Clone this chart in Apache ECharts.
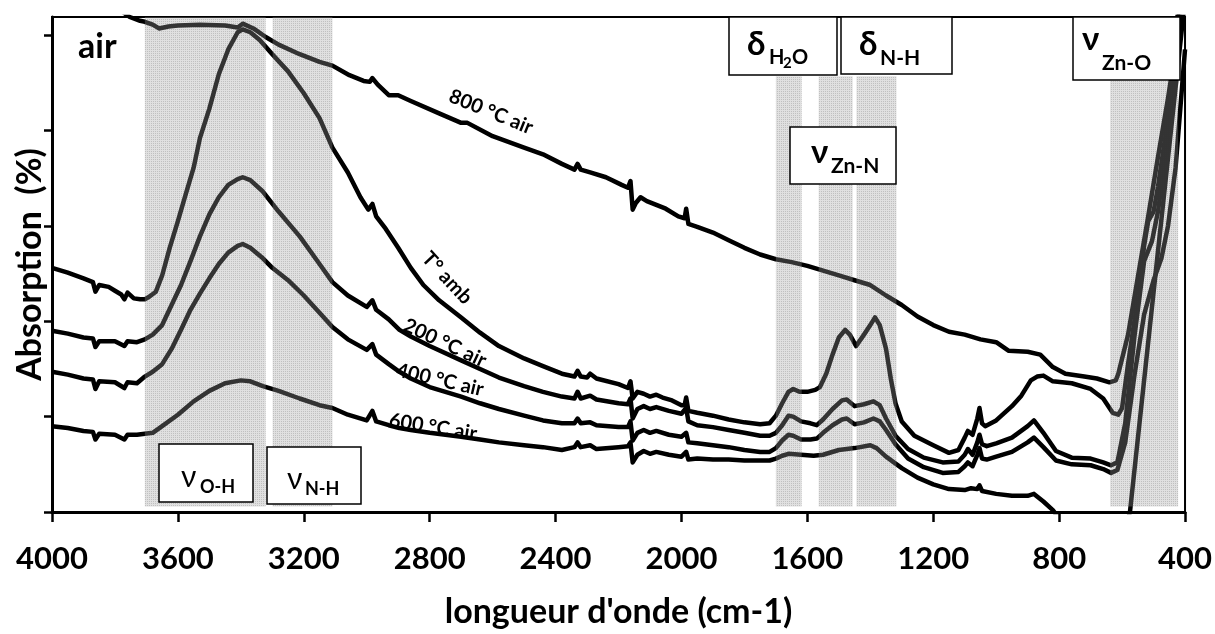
<!DOCTYPE html>
<html><head><meta charset="utf-8">
<script src="https://cdn.jsdelivr.net/npm/echarts@6/dist/echarts.min.js"></script>
<style>html,body{margin:0;padding:0;background:#fff}#c{width:1215px;height:634px}</style>
</head><body><div id="c"></div>
<script>
// ---- data: [wavenumber (cm-1), absorption (arb. units, 1 per y tick)] ----
const xTicks = [4000, 3600, 3200, 2800, 2400, 2000, 1600, 1200, 800, 400];

const air800 = [[4000,5.60],[3900,5.45],[3800,5.30],[3753,5.19],[3720,5.15],[3705,5.14],[3680,5.11],[3660,5.07],[3630,5.09],[3600,5.10],[3530,5.11],[3450,5.10],[3410,5.08],[3394,5.12],[3360,5.07],[3321,4.98],[3280,4.90],[3213,4.80],[3150,4.72],[3109,4.68],[3055,4.58],[3010,4.52],[2990,4.51],[2982,4.55],[2965,4.48],[2930,4.37],[2900,4.37],[2860,4.31],[2770,4.18],[2700,4.08],[2680,4.08],[2600,3.94],[2500,3.82],[2440,3.75],[2380,3.65],[2340,3.59],[2330,3.65],[2320,3.59],[2290,3.56],[2240,3.51],[2190,3.43],[2170,3.40],[2162,3.47],[2155,3.17],[2145,3.24],[2130,3.30],[2110,3.26],[2080,3.22],[2050,3.18],[2010,3.10],[1990,3.08],[1985,3.18],[1978,3.02],[1950,2.99],[1900,2.93],[1850,2.85],[1800,2.77],[1750,2.70],[1700,2.65],[1650,2.62],[1600,2.58],[1550,2.53],[1500,2.48],[1450,2.43],[1400,2.38],[1350,2.27],[1300,2.17],[1250,2.05],[1200,1.96],[1150,1.89],[1100,1.86],[1050,1.81],[1000,1.78],[960,1.69],[900,1.68],[860,1.65],[820,1.52],[780,1.45],[720,1.42],[680,1.40],[640,1.36],[620,1.38],[612,1.45],[581,1.86],[549,2.48],[517,3.10],[486,3.72],[454,4.34],[440,4.64],[425,5.16],[415,5.50]];

const airAmb = [[4000,2.56],[3950,2.51],[3900,2.45],[3870,2.41],[3862,2.31],[3850,2.38],[3820,2.36],[3800,2.32],[3780,2.28],[3770,2.23],[3760,2.30],[3740,2.24],[3720,2.23],[3705,2.23],[3690,2.26],[3670,2.31],[3650,2.48],[3626,2.77],[3600,3.05],[3578,3.30],[3550,3.61],[3530,3.92],[3500,4.23],[3470,4.59],[3440,4.85],[3410,5.03],[3394,5.06],[3370,5.03],[3340,4.95],[3300,4.80],[3250,4.62],[3200,4.39],[3150,4.13],[3109,3.82],[3060,3.56],[3020,3.30],[2995,3.17],[2982,3.23],[2970,3.10],[2940,2.97],[2900,2.77],[2860,2.56],[2820,2.38],[2770,2.22],[2700,2.04],[2640,1.88],[2580,1.74],[2500,1.61],[2440,1.53],[2380,1.45],[2340,1.42],[2330,1.48],[2320,1.42],[2300,1.41],[2290,1.45],[2270,1.40],[2200,1.34],[2170,1.30],[2162,1.37],[2155,1.19],[2140,1.26],[2120,1.24],[2100,1.21],[2080,1.23],[2060,1.20],[2030,1.17],[2000,1.12],[1990,1.12],[1985,1.20],[1978,1.06],[1950,1.04],[1900,1.01],[1850,0.97],[1800,0.94],[1750,0.92],[1720,0.93],[1700,1.01],[1680,1.14],[1660,1.26],[1645,1.29],[1625,1.26],[1600,1.26],[1575,1.28],[1560,1.31],[1540,1.45],[1520,1.65],[1500,1.83],[1480,1.91],[1465,1.86],[1445,1.74],[1420,1.86],[1400,1.96],[1385,2.04],[1370,1.96],[1350,1.71],[1335,1.40],[1320,1.14],[1300,0.95],[1260,0.80],[1200,0.70],[1150,0.62],[1120,0.65],[1100,0.78],[1090,0.85],[1075,0.81],[1060,0.98],[1053,1.09],[1045,0.93],[1035,0.90],[1000,0.96],[950,1.11],[920,1.22],[890,1.38],[870,1.42],[850,1.43],[820,1.37],[760,1.35],[700,1.29],[660,1.19],[630,1.04],[612,1.02],[600,1.09],[581,1.55],[549,2.27],[530,2.79],[517,3.05],[500,3.15],[486,3.41],[454,4.13],[440,4.49],[425,5.06],[415,5.40]];

const air200 = [[4000,1.90],[3950,1.87],[3900,1.83],[3870,1.82],[3862,1.73],[3850,1.79],[3800,1.79],[3770,1.74],[3760,1.79],[3730,1.78],[3705,1.81],[3680,1.86],[3650,1.96],[3620,2.17],[3590,2.38],[3560,2.63],[3530,2.89],[3500,3.12],[3470,3.30],[3440,3.43],[3410,3.49],[3394,3.51],[3370,3.48],[3330,3.36],[3280,3.15],[3213,2.89],[3150,2.60],[3109,2.41],[3060,2.27],[3000,2.15],[2982,2.22],[2970,2.12],[2930,2.02],[2896,1.91],[2860,1.84],[2800,1.74],[2700,1.59],[2640,1.50],[2580,1.41],[2500,1.32],[2440,1.26],[2380,1.21],[2340,1.19],[2330,1.26],[2320,1.19],[2290,1.22],[2270,1.18],[2200,1.14],[2170,1.13],[2162,1.19],[2155,0.98],[2140,1.08],[2120,1.11],[2100,1.08],[2080,1.10],[2040,1.06],[2000,1.03],[1985,1.09],[1978,0.95],[1950,0.91],[1900,0.89],[1850,0.86],[1800,0.83],[1750,0.80],[1720,0.80],[1700,0.83],[1680,0.91],[1660,1.01],[1645,1.00],[1620,0.95],[1590,0.93],[1570,0.91],[1550,0.97],[1520,1.08],[1490,1.17],[1475,1.18],[1450,1.11],[1420,1.13],[1390,1.16],[1370,1.12],[1350,0.98],[1320,0.80],[1280,0.66],[1230,0.57],[1170,0.52],[1120,0.53],[1100,0.60],[1090,0.66],[1075,0.60],[1060,0.73],[1053,0.81],[1045,0.71],[1030,0.69],[1000,0.72],[950,0.78],[900,0.90],[880,0.96],[850,0.83],[810,0.64],[760,0.57],[700,0.56],[660,0.52],[635,0.49],[615,0.52],[590,0.93],[560,1.86],[530,2.63],[505,2.84],[486,3.15],[454,3.92],[440,4.34],[425,4.95],[415,5.35]];

const air400 = [[4000,1.47],[3950,1.44],[3900,1.40],[3870,1.39],[3862,1.29],[3850,1.37],[3800,1.36],[3770,1.30],[3760,1.36],[3730,1.35],[3705,1.42],[3680,1.47],[3650,1.55],[3620,1.71],[3590,1.91],[3560,2.12],[3530,2.29],[3500,2.45],[3470,2.60],[3440,2.72],[3410,2.79],[3394,2.81],[3370,2.77],[3330,2.66],[3300,2.56],[3250,2.43],[3200,2.27],[3150,2.09],[3109,1.94],[3060,1.81],[3000,1.70],[2982,1.76],[2970,1.65],[2930,1.55],[2896,1.47],[2860,1.40],[2800,1.31],[2700,1.21],[2640,1.14],[2580,1.08],[2500,1.01],[2440,0.96],[2380,0.93],[2340,0.93],[2330,0.98],[2320,0.93],[2290,0.94],[2270,0.91],[2200,0.89],[2170,0.89],[2162,0.95],[2155,0.75],[2140,0.83],[2120,0.86],[2100,0.83],[2080,0.85],[2040,0.81],[2000,0.79],[1985,0.83],[1978,0.73],[1950,0.72],[1900,0.70],[1850,0.68],[1800,0.65],[1750,0.63],[1720,0.63],[1700,0.67],[1680,0.75],[1660,0.81],[1645,0.80],[1620,0.76],[1590,0.76],[1570,0.77],[1550,0.83],[1520,0.91],[1490,0.97],[1475,0.98],[1450,0.92],[1420,0.94],[1390,0.98],[1370,0.95],[1350,0.86],[1320,0.71],[1280,0.56],[1230,0.47],[1170,0.41],[1120,0.42],[1100,0.48],[1090,0.52],[1075,0.48],[1060,0.60],[1053,0.67],[1045,0.56],[1030,0.55],[1000,0.58],[950,0.63],[900,0.73],[880,0.78],[850,0.68],[810,0.54],[760,0.50],[700,0.49],[660,0.45],[635,0.41],[615,0.44],[590,0.73],[560,1.45],[530,2.07],[500,2.43],[475,2.66],[454,3.00],[430,3.61],[415,4.23],[400,4.85]];

const air600 = [[4000,0.90],[3950,0.88],[3900,0.85],[3870,0.84],[3862,0.76],[3850,0.82],[3800,0.81],[3770,0.76],[3760,0.81],[3730,0.81],[3705,0.82],[3680,0.83],[3650,0.90],[3600,1.02],[3550,1.16],[3500,1.27],[3450,1.35],[3400,1.38],[3370,1.37],[3330,1.32],[3280,1.27],[3213,1.19],[3150,1.12],[3109,1.09],[3060,1.02],[3000,0.96],[2982,1.06],[2970,0.95],[2930,0.91],[2896,0.88],[2860,0.86],[2800,0.83],[2700,0.79],[2640,0.76],[2580,0.73],[2500,0.70],[2440,0.68],[2380,0.65],[2340,0.68],[2330,0.73],[2320,0.68],[2290,0.70],[2270,0.66],[2200,0.68],[2170,0.69],[2162,0.73],[2155,0.52],[2140,0.60],[2120,0.64],[2100,0.61],[2080,0.63],[2040,0.60],[2000,0.58],[1985,0.63],[1978,0.55],[1950,0.56],[1900,0.55],[1850,0.55],[1800,0.54],[1750,0.54],[1720,0.54],[1700,0.56],[1680,0.59],[1660,0.61],[1620,0.60],[1580,0.59],[1550,0.60],[1500,0.65],[1450,0.67],[1400,0.70],[1380,0.67],[1350,0.58],[1300,0.46],[1250,0.36],[1200,0.29],[1150,0.24],[1100,0.23],[1080,0.25],[1060,0.24],[1053,0.28],[1045,0.22],[1000,0.19],[950,0.17],[900,0.17],[880,0.19],[850,0.11],[820,0.02],[800,-0.07],[750,-0.30],[650,-0.50],[600,-0.30],[575,0.00],[406,5.19],[400,5.40]];

// shaded vibration bands [from, to] in cm-1, and their top (abs. units)
const bandRanges = [[3705, 3321], [3299, 3109], [1700, 1618], [1564, 1456], [1444, 1317], [638, 422]];
const bandTops = [5.19, 5.19, 4.57, 4.57, 4.57, 4.52];
const yTicks = [0, 1, 2, 3, 4, 5];

// ---- chart ----
const FONT = 'Lato, "Noto Sans", "Open Sans", sans-serif';
const Y_MAX = 5.19, BAND_BOTTOM = 0.057;

const pc = document.createElement('canvas');
pc.width = 2; pc.height = 2;
const g = pc.getContext('2d');
g.fillStyle = 'rgba(160,160,160,0.32)'; g.fillRect(0, 0, 2, 2);
g.clearRect(1, 1, 1, 1);
g.fillStyle = 'rgba(115,115,115,0.45)'; g.fillRect(1, 1, 1, 1);
const bandFill = { type: 'pattern', image: pc, repeat: 'repeat' };

const bandData = bandRanges.map((b, i) => [b[0], b[1], bandTops[i]]);

function lineSeries(name, data) {
  return { name, type: 'line', data, symbol: 'none', z: 2, clip: true, animation: false,
    lineStyle: { color: '#000', width: 4.5, join: 'round' } };
}

function txt(x, y, text, size, weight, align, rotDeg) {
  return { type: 'text', x, y, z: 120, rotation: (rotDeg || 0) * Math.PI / 180,
    style: { text, fill: '#000', fontSize: size, fontWeight: weight, fontFamily: FONT,
      align: align || 'left', verticalAlign: 'middle' } };
}
function box(x, y, w, h) {
  return { type: 'rect', z: 110, shape: { x, y, width: w, height: h },
    style: { fill: '#fff', stroke: '#000', lineWidth: 1.5 } };
}

const chart = echarts.init(document.getElementById('c'), null, { renderer: 'canvas' });
chart.setOption({
  animation: false,
  backgroundColor: '#fff',
  grid: { left: 52, right: 28, top: 17, bottom: 113.5, show: true, borderColor: '#000', borderWidth: 2, backgroundColor: 'transparent' },
  xAxis: {
    type: 'value', min: xTicks[xTicks.length - 1], max: xTicks[0], interval: 400, inverse: true,
    axisLine: { show: true, onZero: false, lineStyle: { color: '#000', width: 3 } },
    axisTick: { show: true, length: 10, lineStyle: { color: '#000', width: 2.5 } },
    axisLabel: { color: '#000', fontSize: 31, fontWeight: 'bold', fontFamily: FONT, margin: 31,
      showMinLabel: true, showMaxLabel: true, formatter: v => String(v) },
    splitLine: { show: false },
    name: "longueur d'onde (cm-1)", nameLocation: 'middle', nameGap: 83,
    nameTextStyle: { color: '#000', fontSize: 34, fontWeight: 'bold', fontFamily: FONT }
  },
  yAxis: {
    type: 'value', min: 0, max: Y_MAX,
    axisLine: { show: true, onZero: false, lineStyle: { color: '#000', width: 3 } },
    axisTick: { show: true, length: 8, customValues: yTicks, lineStyle: { color: '#000', width: 2.5 } },
    axisLabel: { show: false },
    splitLine: { show: false },
    name: 'Absorption  (%)', nameLocation: 'middle', nameGap: 5, nameRotate: 90,
    nameTextStyle: { color: '#000', fontSize: 34, fontWeight: 'bold', fontFamily: FONT }
  },
  series: [
    lineSeries('800 °C air', air800),
    lineSeries('T° amb', airAmb),
    lineSeries('200 °C air', air200),
    lineSeries('400 °C air', air400),
    lineSeries('600 °C air', air600),
    {
      type: 'custom', name: 'bands', z: 5, data: bandData, clip: true, silent: true,
      renderItem: function (params, api) {
        const p1 = api.coord([api.value(0), api.value(2)]);
        const p2 = api.coord([api.value(1), BAND_BOTTOM]);
        return { type: 'rect',
          shape: { x: Math.min(p1[0], p2[0]), y: p1[1], width: Math.abs(p2[0] - p1[0]), height: p2[1] - p1[1] },
          style: { fill: bandFill } };
      }
    }
  ],
  graphic: [
    txt(78, 47, 'air', 34, 'bold'),
    // curve labels
    txt(491, 112, '800 °C air', 20, 'bold', 'center', -22),
    txt(447, 278, 'T° amb', 20, 'bold', 'center', -47),
    txt(445, 343, '200 °C air', 20, 'bold', 'center', -25),
    txt(440, 380, '400 °C air', 20, 'bold', 'center', -13),
    txt(433, 427, '600 °C air', 20, 'bold', 'center', -9),
    // assignment boxes
    box(159, 444, 94, 58), txt(181, 477, 'ν', 30, 'normal'), txt(200, 487, 'O-H', 18, 'bold'),
    box(267, 447, 94, 57), txt(287, 479, 'ν', 30, 'normal'), txt(305, 489, 'N-H', 18, 'bold'),
    box(729, 17, 108, 58), txt(747, 44, 'δ', 33, 'bold'),
      txt(769, 58, 'H', 20, 'bold'), txt(783, 63, '2', 15, 'bold'), txt(792, 58, 'O', 20, 'bold'),
    box(841, 17, 111, 57), txt(859, 44, 'δ', 33, 'bold'), txt(880, 58, 'N-H', 21, 'bold'),
    box(790, 127, 106, 57), txt(811, 152, 'ν', 33, 'bold'), txt(831, 166, 'Zn-N', 21, 'bold'),
    box(1073, 17, 107, 63), txt(1082, 39, 'ν', 33, 'bold'), txt(1102, 63, 'Zn-O', 21, 'bold')
  ]
});
</script>
</body></html>
